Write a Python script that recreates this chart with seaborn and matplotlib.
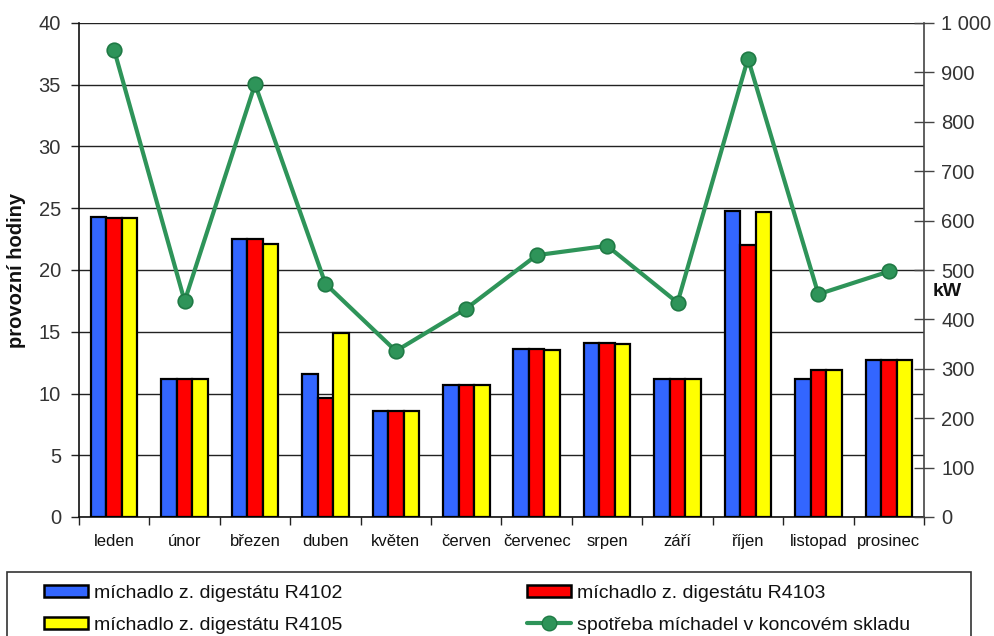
import numpy as np
import pandas as pd
import matplotlib
matplotlib.use("Agg")
import matplotlib.pyplot as plt
from matplotlib.patches import Patch, Rectangle
from matplotlib.lines import Line2D
from matplotlib.ticker import MultipleLocator, FixedLocator, FuncFormatter
import seaborn as sns

# Monthly data
months = ["leden", "únor", "březen", "duben", "květen", "červen",
          "červenec", "srpen", "září", "říjen", "listopad", "prosinec"]
hours_r4102 = [24.3, 11.2, 22.5, 11.6, 8.6, 10.7, 13.6, 14.1, 11.2, 24.8, 11.2, 12.7]
hours_r4103 = [24.2, 11.2, 22.5, 9.6, 8.6, 10.7, 13.6, 14.1, 11.2, 22.0, 11.9, 12.7]
hours_r4105 = [24.2, 11.2, 22.1, 14.9, 8.6, 10.7, 13.5, 14.0, 11.2, 24.7, 11.9, 12.7]
power_kw = [945, 437, 876, 472, 336, 422, 530, 549, 434, 928, 451, 497]

series_names = ["míchadlo z. digestátu R4102",
                "míchadlo z. digestátu R4103",
                "míchadlo z. digestátu R4105"]
line_name = "spotřeba míchadel v koncovém skladu"
bar_colors = ["#3366FF", "#FF0000", "#FFFF00"]
line_color = "#2E9459"
marker_edge = "#1F7A45"

df = pd.DataFrame({
    "month": months * 3,
    "series": [s for s in series_names for _ in months],
    "hours": hours_r4102 + hours_r4103 + hours_r4105,
})

sns.set_theme(style="white")
plt.rcParams["font.family"] = ["Liberation Sans", "DejaVu Sans"]
text_color = "#333333"

fig = plt.figure(figsize=(9.95, 6.36), dpi=100)
ax = fig.add_axes([79 / 995, 1 - 517 / 636, (924 - 79) / 995, (517 - 23) / 636])

sns.barplot(data=df, x="month", y="hours", hue="series", order=months,
            hue_order=series_names, palette=bar_colors, width=0.66, gap=0,
            edgecolor="black", linewidth=1.6, saturation=1, legend=False,
            errorbar=None, ax=ax, zorder=3)

ax.set_xlim(-0.5, len(months) - 0.5)
ax.set_ylim(0, 40)
ax.yaxis.set_major_locator(MultipleLocator(5))
ax.grid(axis="y", color="#222222", linewidth=1.0)
ax.set_axisbelow(True)

# category labels in the middle, tick marks on the boundaries
ax.set_xticks(np.arange(len(months)))
ax.set_xticklabels(months, fontsize=12, color="#111111")
ax.xaxis.set_minor_locator(FixedLocator(np.arange(len(months) + 1) - 0.5))
ax.tick_params(axis="x", which="major", length=0, pad=12)
ax.tick_params(axis="x", which="minor", length=6, width=1, color="#222222",
               direction="out", bottom=True)
ax.tick_params(axis="y", length=6, width=1, color="#222222", direction="out",
               left=True, labelsize=14.5, labelcolor=text_color, pad=7)
ax.set_xlabel("")
ax.set_ylabel("provozní hodiny", fontsize=14.5, fontweight="bold",
              color="#111111", labelpad=9)

for side in ["left", "bottom"]:
    ax.spines[side].set_color("#111111")
    ax.spines[side].set_linewidth(1.2)
ax.spines["top"].set_visible(False)
ax.spines["right"].set_visible(False)

# power consumption on the secondary axis
ax2 = ax.twinx()
sns.lineplot(x=np.arange(len(months)), y=power_kw, ax=ax2, color=line_color,
             linewidth=3, marker="o", markersize=10.5, markerfacecolor=line_color,
             markeredgecolor=marker_edge, markeredgewidth=1.2, sort=False)
ax2.set_ylim(0, 1000)
ax2.set_xlim(-0.5, len(months) - 0.5)
ax2.yaxis.set_major_locator(MultipleLocator(100))
ax2.yaxis.set_major_formatter(FuncFormatter(lambda v, p: f"{int(v):,}".replace(",", " ")))
ax2.tick_params(axis="y", right=True, direction="inout", length=15, width=1,
                color="#444444", labelsize=14.5, labelcolor=text_color, pad=5)
for side in ["top", "left", "bottom"]:
    ax2.spines[side].set_visible(False)
ax2.spines["right"].set_color("#444444")
ax2.spines["right"].set_linewidth(1.2)
ax2.set_ylabel("")
ax2.text(1.01, 0.457, "kW", transform=ax2.transAxes, fontsize=14,
         fontweight="bold", color="#111111", ha="left", va="center")

# legend below the plot in a framed box
fig.patches.append(Rectangle((7 / 995, -0.05), (971 - 7) / 995, (1 - 572 / 636) + 0.05,
                             transform=fig.transFigure, fill=False,
                             edgecolor="#333333", linewidth=1.2))

bar_handles = [Patch(facecolor=c, edgecolor="black", linewidth=1.8) for c in bar_colors]
line_handle = Line2D([], [], color=line_color, linewidth=3, marker="o",
                     markersize=10.5, markerfacecolor=line_color,
                     markeredgecolor=marker_edge)

leg_kw = dict(loc="upper left", frameon=False, fontsize=14, borderpad=0,
              borderaxespad=0, handlelength=2.25, handleheight=0.6,
              handletextpad=0.3, labelspacing=0.75,
              labelcolor="#111111")
leg1 = fig.legend([bar_handles[0], bar_handles[2]], [series_names[0], series_names[2]],
                  bbox_to_anchor=(44 / 995, 1 - 585 / 636), **leg_kw)
leg2 = fig.legend([bar_handles[1], line_handle], [series_names[1], line_name],
                  bbox_to_anchor=(527 / 995, 1 - 585 / 636), **leg_kw)

fig.savefig("out.png", dpi=100)
